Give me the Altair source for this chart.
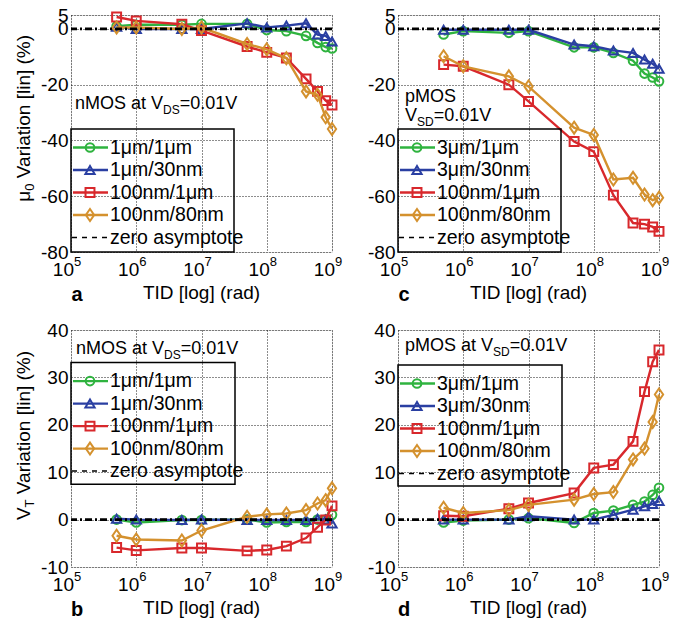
import altair as alt
import pandas as pd

# ---------------- data ----------------
tid = [5e5, 1e6, 5e6, 1e7, 5e7, 1e8, 2e8, 4e8, 6e8, 8e8, 1e9]
x_ticks = [1e5, 1e6, 1e7, 1e8, 1e9]
x_exponents = ["5", "6", "7", "8", "9"]

nmos_labels = ["1μm/1μm", "1μm/30nm", "100nm/1μm", "100nm/80nm"]
pmos_labels = ["3μm/1μm", "3μm/30nm", "100nm/1μm", "100nm/80nm"]

# (a) mu0 variation, nMOS
mu_n_1u1u = [1.0, 1.5, 1.5, 1.8, 1.8, -0.4, -0.8, -2.5, -5.0, -6.5, -7.0]
mu_n_1u30n = [0.8, 0.0, 0.0, 0.0, 2.0, 0.5, 1.2, 2.0, -2.0, -2.5, -4.5]
mu_n_100n1u = [4.3, 2.9, 1.7, -0.6, -6.3, -8.4, -10.4, -17.9, -22.4, -25.7, -27.3]
mu_n_100n80n = [0.5, 0.5, 0.0, 0.5, -5.4, -7.3, -10.5, -22.4, -23.6, -31.7, -35.9]

# (c) mu0 variation, pMOS
mu_p_3u1u = [-2.0, -0.8, -1.4, -0.8, -6.6, -6.6, -8.6, -11.4, -16.0, -17.4, -18.8]
mu_p_3u30n = [-0.3, -0.3, -0.3, -0.3, -5.6, -6.2, -7.7, -8.6, -11.0, -12.5, -14.3]
mu_p_100n1u = [-12.8, -13.4, -20.0, -26.0, -40.4, -44.0, -59.6, -69.6, -70.0, -71.0, -72.6]
mu_p_100n80n = [-9.8, -13.4, -17.0, -20.6, -35.4, -38.0, -54.0, -53.4, -59.4, -61.4, -60.5]

# (b) VT variation, nMOS
vt_n_1u1u = [0.0, -0.6, -0.1, -0.1, 0.0, -0.6, -0.5, -0.5, 0.0, 0.0, 1.0]
vt_n_1u30n = [0.2, 0.0, -0.1, 0.0, -0.1, -0.1, -0.1, -0.1, 0.2, 0.0, -0.8]
vt_n_100n1u = [-5.9, -6.5, -6.0, -6.0, -6.6, -6.4, -5.6, -3.9, -1.6, -0.1, 2.9]
vt_n_100n80n = [-3.4, -4.2, -4.4, -2.3, 0.6, 1.1, 1.3, 2.0, 3.4, 4.1, 6.6]

# (d) VT variation, pMOS
vt_p_3u1u = [-0.6, -0.2, 0.0, 0.3, -0.7, 1.4, 1.9, 3.1, 3.8, 5.2, 6.7]
vt_p_3u30n = [0.0, 0.0, 0.0, 0.7, 0.0, 0.0, 1.0, 2.1, 2.8, 3.3, 3.9]
vt_p_100n1u = [0.8, 0.7, 2.3, 3.5, 5.6, 10.9, 11.6, 16.5, 27.0, 33.3, 35.8]
vt_p_100n80n = [2.5, 1.4, 2.0, 3.1, 4.2, 5.4, 5.8, 12.7, 15.0, 20.6, 26.4]

mu_domain = [-80, 5]
mu_ticks = [-80, -60, -40, -20, 0, 5]
vt_domain = [-10, 40]
vt_ticks = [-10, 0, 10, 20, 30, 40]

# ---------------- style ----------------
COLORS = ["#2fb33f", "#2a3fa2", "#d8282c", "#d4912e"]
DIAMOND = "M0,-1.3L0.9,0L0,1.3L-0.9,0Z"
SHAPES = ["circle", "triangle-up", "square", DIAMOND]
SIZES = [75, 85, 80, 85]
FONT = "Liberation Sans, Arial, sans-serif"
W, H = 261, 237
ONE = pd.DataFrame({"k": [0]})

ARIAL = {' ': 278, 'n': 556, 'M': 833, 'O': 778, 'S': 667, 'a': 556, 't': 278,
         'V': 667, 'D': 722, '=': 584, '0': 556, '.': 278, '1': 556, 'p': 556,
         'T': 611, 'μ': 576, 'r': 333, 'i': 222, 'o': 556, '[': 278, 'l': 222,
         ']': 278, '(': 333, '%': 889, ')': 333}


def tw(s, size):
    return sum(ARIAL.get(c, 556) for c in s) / 1000.0 * size


def txt(text, x, y, size=18, align="left", baseline="middle", weight="normal", angle=0):
    kw = dict(text=text, align=align, baseline=baseline, font=FONT, fontSize=size,
              fontWeight=weight, color="black")
    if angle:
        kw["angle"] = angle
    return alt.Chart(ONE).mark_text(**kw).encode(x=alt.value(x), y=alt.value(y))


def rich(parts, x0, y0, size=18, sub_size=12, sub_dy=6):
    layers = []
    x = x0
    for s, sub in parts:
        if sub:
            layers.append(txt(s, x, y0 + sub_dy, size=sub_size))
            x += tw(s, sub_size)
        else:
            layers.append(txt(s, x, y0, size=size))
            x += tw(s, size)
    return layers


def ytitle(big, small, x_c, y_center, size=19, sub_size=13):
    rest = "Variation [lin] (%)"
    gap = tw(" ", size)
    total = tw(big, size) + tw(small, sub_size) + gap + tw(rest, size)
    y_bottom = y_center + total / 2
    out = [txt(big, x_c, y_bottom, size=size, angle=270)]
    y2 = y_bottom - tw(big, size)
    out.append(txt(small, x_c + 6, y2, size=sub_size, angle=270))
    y3 = y2 - tw(small, sub_size) - gap
    out.append(txt(rest, x_c, y3, size=size, angle=270))
    return out


def panel(series, labels, ydom, yticks, annotations, box, letter, title_parts):
    xenc = alt.X("tid:Q", scale=alt.Scale(type="log", domain=[1e5, 1e9]),
                 axis=alt.Axis(values=x_ticks, labels=False, ticks=False, domain=False,
                               grid=True, gridDash=[1, 2], gridColor="black",
                               gridWidth=0.9, gridOpacity=1, title=None))
    yenc = alt.Y("v:Q", scale=alt.Scale(domain=ydom, nice=False, zero=False),
                 axis=alt.Axis(values=yticks, ticks=False, domain=False, grid=True,
                               gridDash=[1, 2], gridColor="black", gridWidth=0.9,
                               gridOpacity=1, title=None, labelFontSize=19,
                               labelFont=FONT, labelColor="black", labelPadding=3,
                               labelOverlap=False, labelBound=False,
                               labelExpr="'' + datum.value"))
    layers = []
    for vals, c, shp, sz in zip(series, COLORS, SHAPES, SIZES):
        df = pd.DataFrame({"tid": tid, "v": vals})
        base = alt.Chart(df)
        layers.append(base.mark_line(color=c, strokeWidth=2.4).encode(x=xenc, y=yenc))
        layers.append(base.mark_point(shape=shp, filled=False, color=c, size=sz,
                                      strokeWidth=2, opacity=1).encode(x=xenc, y=yenc))
    # zero asymptote
    layers.append(alt.Chart(ONE).mark_rule(color="black", strokeWidth=2.8,
                                           strokeDash=[7, 3, 2, 3]).encode(y=alt.datum(0)))
    # x tick labels
    tk = pd.DataFrame({"t": x_ticks, "e": x_exponents})
    layers.append(alt.Chart(tk).mark_text(text="10", align="right", baseline="middle",
                                          dx=3, font=FONT, fontSize=19, color="black")
                  .encode(x=alt.X("t:Q"), y=alt.value(H + 18)))
    layers.append(alt.Chart(tk).mark_text(align="left", baseline="middle", dx=3,
                                          font=FONT, fontSize=13, color="black")
                  .encode(x=alt.X("t:Q"), y=alt.value(H + 10), text="e:N"))
    # legend
    x0, y0, x1, y1 = box
    layers.append(alt.Chart(ONE).mark_rect(fill="white", fillOpacity=0, stroke="black",
                                           strokeWidth=1.5)
                  .encode(x=alt.value(x0), x2=alt.value(x1), y=alt.value(y0), y2=alt.value(y1)))
    for i, (lab, c, shp, sz) in enumerate(zip(labels, COLORS, SHAPES, SIZES)):
        yy = y0 + 18.5 + 22.5 * i
        layers.append(alt.Chart(ONE).mark_rule(color=c, strokeWidth=2.4)
                      .encode(x=alt.value(x0 + 2), x2=alt.value(x0 + 37), y=alt.value(yy)))
        layers.append(alt.Chart(ONE).mark_point(shape=shp, filled=False, color=c, size=sz,
                                                strokeWidth=2, opacity=1)
                      .encode(x=alt.value(x0 + 19), y=alt.value(yy)))
        layers.append(txt(lab, x0 + 39, yy, size=19.5))
    yy = y0 + 18.5 + 22.5 * 4
    layers.append(alt.Chart(ONE).mark_rule(color="black", strokeWidth=1.5, strokeDash=[5, 5])
                  .encode(x=alt.value(x0 + 1), x2=alt.value(x0 + 36), y=alt.value(yy)))
    layers.append(txt("zero asymptote", x0 + 39, yy, size=19.5))
    # annotations
    for parts, ax, ay in annotations:
        layers += rich(parts, ax, ay)
    # x title, panel letter
    layers.append(txt("TID [log] (rad)", W / 2, H + 41, size=19, align="center"))
    layers.append(txt(letter, 6, H + 43, size=20, align="center", weight="bold"))
    if title_parts:
        layers += ytitle(*title_parts)
    return alt.layer(*layers).properties(width=W, height=H)


pa = panel([mu_n_1u1u, mu_n_1u30n, mu_n_100n1u, mu_n_100n80n], nmos_labels,
           mu_domain, mu_ticks,
           [([("nMOS at V", False), ("DS", True), ("=0.01V", False)], 4, 89)],
           (0, 114, 163, H), "a", ("μ", "0", -47, 102.6))
pc = panel([mu_p_3u1u, mu_p_3u30n, mu_p_100n1u, mu_p_100n80n], pmos_labels,
           mu_domain, mu_ticks,
           [([("pMOS", False)], 7, 82),
            ([("V", False), ("SD", True), ("=0.01V", False)], 7, 101)],
           (0, 114, 163, H), "c", None)
pb = panel([vt_n_1u1u, vt_n_1u30n, vt_n_100n1u, vt_n_100n80n], nmos_labels,
           vt_domain, vt_ticks,
           [([("nMOS at V", False), ("DS", True), ("=0.01V", False)], 5, 18.6)],
           (0, 32.6, 164, 154.3), "b", ("V", "T", -47, 104.8))
pd_ = panel([vt_p_3u1u, vt_p_3u30n, vt_p_100n1u, vt_p_100n80n], pmos_labels,
            vt_domain, vt_ticks,
            [([("pMOS at V", False), ("SD", True), ("=0.01V", False)], 7, 16)],
            (0, 35, 164, 156), "d", None)

chart = alt.concat(pa, pc, pb, pd_, columns=2,
                   spacing={"row": 78, "column": 66}).properties(
    bounds="flush", padding={"left": 6, "top": -3, "right": 5, "bottom": 5}
).configure_view(stroke="black", strokeWidth=1.5).configure(font=FONT)

chart.save("out.html", embed_options={"renderer": "svg", "actions": False})
